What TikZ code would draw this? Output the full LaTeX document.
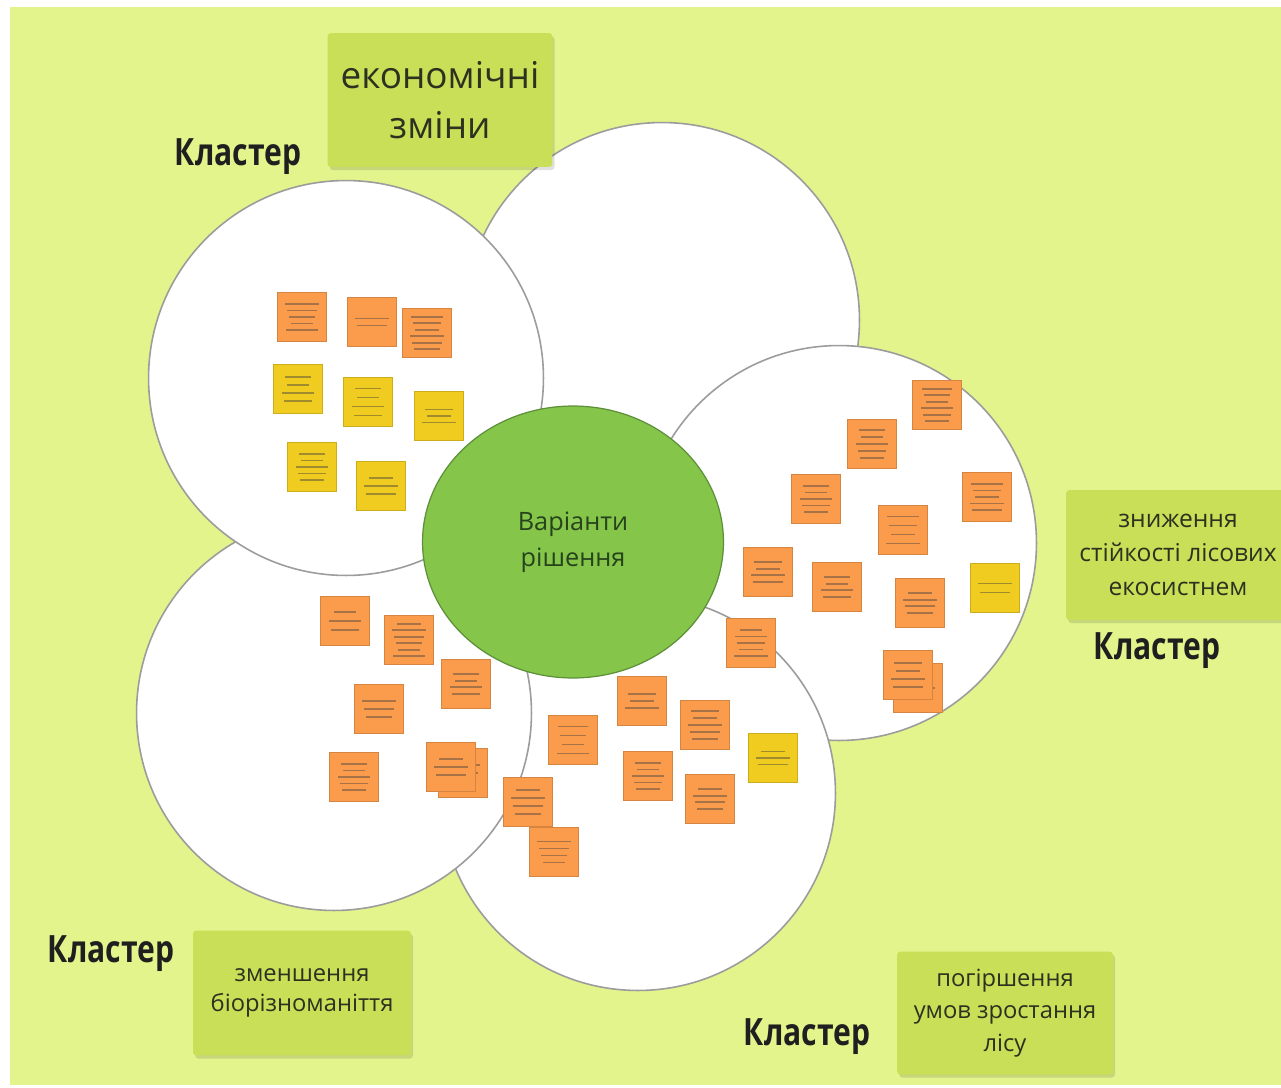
\documentclass[tikz,border=0pt]{standalone}
\usepackage{fontspec}
\setmainfont{Open Sans}
\newfontfamily\clfont[FakeStretch=0.8]{Open Sans}
\usetikzlibrary{shapes.geometric}
\definecolor{bg}{HTML}{E2F48B}
\definecolor{boxc}{HTML}{C9DF57}
\definecolor{ctr}{HTML}{84C54A}
\definecolor{ctrb}{HTML}{5E8F3A}
\definecolor{orng}{HTML}{FA9C4C}
\definecolor{yell}{HTML}{F0CC20}
\definecolor{petalb}{HTML}{9C9C9C}
\definecolor{txt}{HTML}{2C3120}
\definecolor{ctxt}{HTML}{27431C}
\tikzset{
  petal/.style={circle, draw=petalb, line width=0.9pt, fill=white, minimum size=7.9cm, inner sep=0pt},
  note/.style={minimum size=0.98cm, inner sep=0pt, draw=#1!85!black, line width=0.3pt, fill=#1},
  noteline/.style={black!75, line width=0.9pt, opacity=0.45},
  cbox/.style={fill=boxc, rounded corners=2pt, inner sep=0pt, align=center, text=txt,
    preaction={fill=black, opacity=0.12, transform canvas={xshift=1.2pt,yshift=-1.8pt}}},
  clabel/.style={font=\clfont\bfseries\fontsize{21.4}{24}\selectfont, text=black!88, inner sep=0pt, anchor=base}
}
\newcommand\sn[6]{%
  \node[note=#4] (#1) at (#2,#3) {};
  \foreach \k in {1,...,#5}{%
    \pgfmathsetmacro\yy{(\k-(#5+1)/2)*#6}%
    \pgfmathsetmacro\ww{11+mod(\k*5+#2,7)}%
    \draw[noteline] ([shift={(-\ww,\yy)}]#1.center) -- ([shift={(\ww,\yy)}]#1.center);}%
}
\begin{document}
\begin{tikzpicture}[x=0.02cm,y=-0.02cm]
\useasboundingbox (0,0) rectangle (1281,1088);
\fill[white] (0,0) rectangle (1281,1088);
\fill[bg] (10,7) rectangle (1281,1085);
% petals
\node[petal] (ptr) at (662,320) {};
\node[petal] (pr) at (839,543) {};
\node[petal] (pbr) at (638,793) {};
\node[petal] (pbl) at (334,713) {};
\node[petal] (ptl) at (346,378) {};
% centre
\node[ellipse, fill=ctr, draw=ctrb, line width=0.7pt, minimum width=6.02cm, minimum height=5.44cm, inner sep=0pt,
  align=center, text=ctxt, font=\fontsize{14.4}{20.4}\selectfont] (c) at (573,542) {Варіанти\\рішення};
% notes, top-left
\sn{a1}{302}{317}{orng}{5}{6.5}
\sn{a2}{372}{322}{orng}{2}{7}
\sn{a3}{427}{333}{orng}{6}{6.5}
\sn{a4}{298}{389}{yell}{4}{8}
\sn{a5}{368}{402}{yell}{4}{9}
\sn{a6}{439}{416}{yell}{3}{6.5}
\sn{a7}{312}{467}{yell}{5}{6.5}
\sn{a8}{381}{486}{yell}{3}{8}
% notes, right
\sn{b1}{937}{405}{orng}{6}{6.5}
\sn{b2}{872}{444}{orng}{5}{7}
\sn{b3}{816}{499}{orng}{5}{6.5}
\sn{b4}{987}{497}{orng}{5}{6.5}
\sn{b5}{903}{530}{orng}{4}{9}
\sn{b6}{768}{572}{orng}{4}{6.5}
\sn{b7}{837}{587}{orng}{4}{6.5}
\sn{b8}{920}{603}{orng}{4}{6.5}
\sn{b9}{995}{588}{yell}{2}{9}
\sn{b10}{751}{643}{orng}{5}{6.5}
\sn{b11}{918}{688}{orng}{1}{6.5}
\sn{b12}{908}{675}{orng}{4}{8}
% notes, bottom-left
\sn{c1}{345}{621}{orng}{3}{9}
\sn{c2}{409}{640}{orng}{6}{6.5}
\sn{c3}{466}{684}{orng}{4}{6.5}
\sn{c4}{379}{709}{orng}{3}{8}
\sn{c5}{354}{777}{orng}{5}{6.5}
\sn{c6}{463}{773}{orng}{3}{8}
\sn{c7}{451}{767}{orng}{3}{8}
% notes, bottom-right
\sn{d1}{642}{701}{orng}{3}{7}
\sn{d2}{573}{740}{orng}{4}{9}
\sn{d3}{705}{725}{orng}{5}{7}
\sn{d4}{773}{758}{yell}{3}{6.5}
\sn{d5}{648}{776}{orng}{5}{6.5}
\sn{d6}{710}{799}{orng}{4}{6.5}
\sn{d7}{528}{802}{orng}{4}{8}
\sn{d8}{554}{852}{orng}{4}{7}
% cluster boxes
\node[cbox, minimum width=4.5cm, minimum height=2.68cm, font=\fontsize{21}{28.3}\selectfont] (b1x) at (440,100) {економічні\\зміни};
\node[cbox, minimum width=4.48cm, minimum height=2.6cm, font=\fontsize{14}{19.3}\selectfont] (b2x) at (1178,555) {зниження\\стійкості лісових\\екосистнем};
\node[cbox, minimum width=4.36cm, minimum height=2.5cm, font=\fontsize{13.5}{17.2}\selectfont] (b3x) at (302,993) {зменшення\\біорізноманіття};
\node[cbox, minimum width=4.32cm, minimum height=2.46cm, font=\fontsize{13.5}{18.6}\selectfont] (b4x) at (1005,1013) {погіршення\\умов зростання\\лісу};
% labels
\node[clabel] (k1) at (238,165) {Кластер};
\node[clabel] (k2) at (1157,659) {Кластер};
\node[clabel] (k3) at (111,962) {Кластер};
\node[clabel] (k4) at (807,1045) {Кластер};
\end{tikzpicture}
\end{document}
